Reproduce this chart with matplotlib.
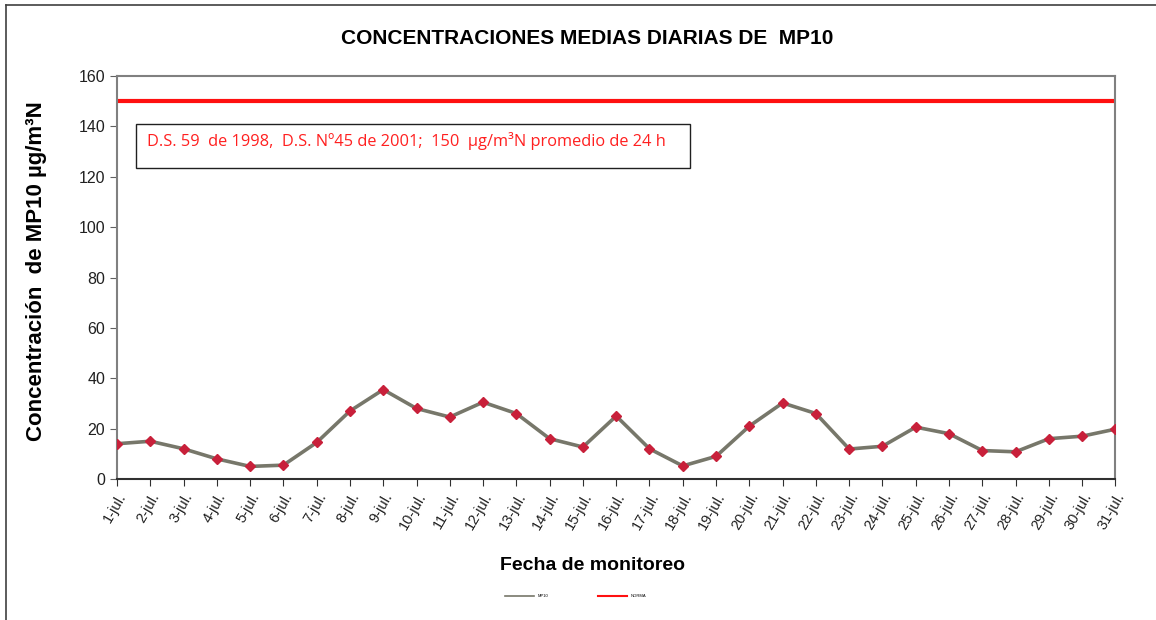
import matplotlib
matplotlib.use("Agg")
import matplotlib.pyplot as plt
from matplotlib.lines import Line2D
from matplotlib.patches import Rectangle

# datos (µg/m³N)
dias = [f"{d}-jul." for d in range(1, 32)]
mp10 = [14, 15, 12, 8, 5, 5.5, 14.5, 27, 35.5, 28, 24.6, 30.5, 26, 16, 12.7,
        25, 12, 5.2, 9, 21, 30.2, 26, 11.9, 13, 20.6, 18, 11.3, 10.8, 16, 17, 19.8]
norma = [150] * len(dias)
yticks = [0, 20, 40, 60, 80, 100, 120, 140, 160]

plt.rcParams["font.family"] = ["Liberation Sans", "DejaVu Sans"]

fig = plt.figure(figsize=(11.56, 6.2), dpi=100)
# marco de la figura (solo arriba e izquierda visibles)
fig.add_artist(Line2D([0.005, 1.0], [0.992, 0.992], color="#404040", lw=1.2))
fig.add_artist(Line2D([0.005, 0.005], [0.0, 0.992], color="#404040", lw=1.2))

ax = fig.add_axes([0.1012, 0.2274, 0.8637, 0.65])
x = list(range(len(dias)))
ax.plot(x, norma, color="#ff1010", lw=3, zorder=2)
ax.plot(x, mp10, color="#77776a", lw=2.6, zorder=3,
        marker="D", markersize=5, markerfacecolor="#c8203a",
        markeredgecolor="#c8203a")

ax.set_xlim(0, len(dias) - 1)
ax.set_ylim(0, 160)
ax.set_yticks(yticks)
ax.set_xticks(x)
ax.set_xticklabels(dias, rotation=60, ha="right", rotation_mode="anchor",
                   fontsize=10.5, color="#202020")
ax.tick_params(axis="y", labelsize=11.5, length=5, color="#606060", labelcolor="#202020")
ax.tick_params(axis="x", length=5, color="#303030", pad=3)
for s in ["top", "right", "left"]:
    ax.spines[s].set_color("#808080")
    ax.spines[s].set_linewidth(1.5)
ax.spines["bottom"].set_color("#303030")
ax.spines["bottom"].set_linewidth(1.5)

fig.text(37 / 1156, 1 - 271 / 620, "Concentración  de MP10 µg/m³N", rotation=90,
         ha="center", va="center", fontsize=16, fontweight="bold")
fig.text(592 / 1156, 1 - 565 / 620, "Fecha de monitoreo", ha="center", va="center",
         fontsize=14, fontweight="bold")

# recuadro de la norma
fig.add_artist(Rectangle((136 / 1156, 1 - 168 / 620), 554 / 1156, 44 / 620,
                         fill=False, edgecolor="#202020", lw=1.0))
fig.text(147 / 1156, 1 - 141 / 620,
         "D.S. 59  de 1998,  D.S. Nº45 de 2001;  150  µg/m³N promedio de 24 h",
         color="#ff2020", fontsize=11.8, va="center", family=["Open Sans", "DejaVu Sans"])

fig.text(587 / 1156, 1 - 39 / 620, "CONCENTRACIONES MEDIAS DIARIAS DE  MP10",
         ha="center", va="center", fontsize=15, fontweight="bold")

# leyenda diminuta
fig.legend([Line2D([], [], color="#77776a", lw=1.2),
            Line2D([], [], color="#ff1010", lw=1.5)],
           ["MP10", "NORMA"], loc="center", bbox_to_anchor=(0.498, 1 - 596 / 620),
           ncol=2, frameon=False, fontsize=3, handlelength=7, columnspacing=12)

fig.savefig("out.png", dpi=100)
